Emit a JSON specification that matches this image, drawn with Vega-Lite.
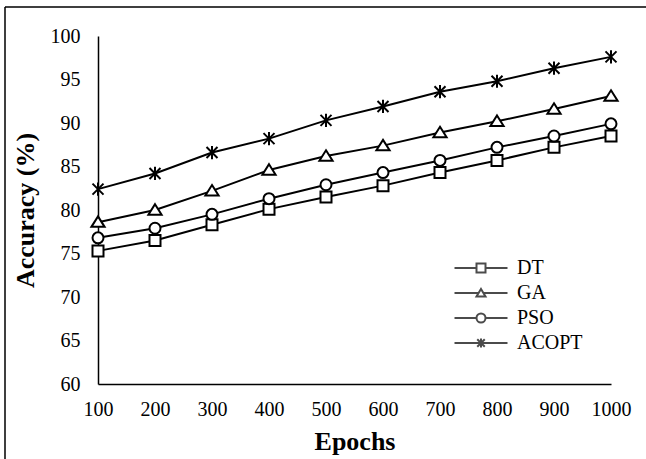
{
  "$schema": "https://vega.github.io/schema/vega-lite/v6.json",
  "width": 641,
  "height": 452,
  "autosize": {"type": "none"},
  "padding": {"left": 5, "top": 7, "right": 0, "bottom": 0},
  "background": "white",
  "view": {"stroke": "black", "strokeWidth": 1.5, "strokeDash": [641, 1093, 452, 0], "fill": "white"},
  "config": {
    "font": "Liberation Serif",
    "axis": {
      "grid": false,
      "ticks": false,
      "tickSize": 0,
      "domainColor": "black",
      "domainWidth": 1.5,
      "labelFont": "Liberation Serif",
      "labelFontSize": 20,
      "labelColor": "black",
      "titleFont": "Liberation Serif",
      "titleFontSize": 26,
      "titleFontWeight": "bold",
      "titleColor": "black"
    },
    "legend": {
      "labelFont": "Liberation Serif",
      "labelFontSize": 20,
      "labelColor": "black",
      "symbolSize": 100,
      "labelOffset": 26,
      "rowPadding": 5,
      "padding": 0
    }
  },
  "data": {
    "values": [
      {"epoch": 100, "method": "DT", "acc": 75.3},
      {"epoch": 200, "method": "DT", "acc": 76.5},
      {"epoch": 300, "method": "DT", "acc": 78.3},
      {"epoch": 400, "method": "DT", "acc": 80.1},
      {"epoch": 500, "method": "DT", "acc": 81.5},
      {"epoch": 600, "method": "DT", "acc": 82.8},
      {"epoch": 700, "method": "DT", "acc": 84.3},
      {"epoch": 800, "method": "DT", "acc": 85.7},
      {"epoch": 900, "method": "DT", "acc": 87.2},
      {"epoch": 1000, "method": "DT", "acc": 88.5},
      {"epoch": 100, "method": "GA", "acc": 78.6},
      {"epoch": 200, "method": "GA", "acc": 80.0},
      {"epoch": 300, "method": "GA", "acc": 82.2},
      {"epoch": 400, "method": "GA", "acc": 84.6},
      {"epoch": 500, "method": "GA", "acc": 86.2},
      {"epoch": 600, "method": "GA", "acc": 87.4},
      {"epoch": 700, "method": "GA", "acc": 88.9},
      {"epoch": 800, "method": "GA", "acc": 90.2},
      {"epoch": 900, "method": "GA", "acc": 91.6},
      {"epoch": 1000, "method": "GA", "acc": 93.1},
      {"epoch": 100, "method": "PSO", "acc": 76.8},
      {"epoch": 200, "method": "PSO", "acc": 77.9},
      {"epoch": 300, "method": "PSO", "acc": 79.5},
      {"epoch": 400, "method": "PSO", "acc": 81.3},
      {"epoch": 500, "method": "PSO", "acc": 82.9},
      {"epoch": 600, "method": "PSO", "acc": 84.3},
      {"epoch": 700, "method": "PSO", "acc": 85.7},
      {"epoch": 800, "method": "PSO", "acc": 87.2},
      {"epoch": 900, "method": "PSO", "acc": 88.5},
      {"epoch": 1000, "method": "PSO", "acc": 89.9},
      {"epoch": 100, "method": "ACOPT", "acc": 82.4},
      {"epoch": 200, "method": "ACOPT", "acc": 84.2},
      {"epoch": 300, "method": "ACOPT", "acc": 86.6},
      {"epoch": 400, "method": "ACOPT", "acc": 88.2},
      {"epoch": 500, "method": "ACOPT", "acc": 90.3},
      {"epoch": 600, "method": "ACOPT", "acc": 91.9},
      {"epoch": 700, "method": "ACOPT", "acc": 93.6},
      {"epoch": 800, "method": "ACOPT", "acc": 94.8},
      {"epoch": 900, "method": "ACOPT", "acc": 96.3},
      {"epoch": 1000, "method": "ACOPT", "acc": 97.6}
    ]
  },
  "encoding": {
    "x": {
      "field": "epoch",
      "type": "quantitative",
      "scale": {"domain": [100, 1000], "range": [93, 606], "nice": false, "zero": false},
      "axis": {"title": "Epochs", "offset": -75, "values": [100, 200, 300, 400, 500, 600, 700, 800, 900, 1000], "format": "d", "labelPadding": 15, "titlePadding": 9, "labelFlush": false, "labelOverlap": false}
    },
    "y": {
      "field": "acc",
      "type": "quantitative",
      "scale": {"domain": [60, 100], "range": [377, 29], "nice": false, "zero": false},
      "axis": {"title": "Accuracy (%)", "offset": -93, "values": [60, 65, 70, 75, 80, 85, 90, 95, 100], "labelPadding": 18, "titlePadding": 12, "labelFlush": false}
    }
  },
  "layer": [
    {
      "mark": {"type": "line", "color": "black", "strokeWidth": 2},
      "encoding": {"detail": {"field": "method", "type": "nominal"}}
    },
    {
      "mark": {"type": "point", "filled": true, "fill": "white", "stroke": "black", "strokeWidth": 2, "size": 121, "opacity": 1},
      "encoding": {
        "shape": {
          "field": "method",
          "type": "nominal",
          "scale": {
            "domain": ["DT", "GA", "PSO", "ACOPT"],
            "range": ["square", "M0,-1.05L1.2,0.85L-1.2,0.85Z", "circle", "M-1,-1L1,1M-1,1L1,-1M0,-1.2V1.2"]
          },
          "legend": null
        }
      }
    },
    {
      "transform": [{"filter": "datum.epoch > 100000"}],
      "mark": {"type": "point", "filled": false, "color": "black", "strokeWidth": 2, "size": 100},
      "encoding": {
        "shape": {
          "field": "method",
          "type": "nominal",
          "scale": {
            "domain": ["DT", "GA", "PSO", "ACOPT"],
            "range": [
              "M-5.3,0H-0.9M0.9,0H5.3M-0.9,-0.9H0.9V0.9H-0.9Z",
              "M-5.3,0H-0.48M0.48,0H5.3M0,-0.8L0.9,0.7H-0.9Z",
              "M-5.3,0H-0.9M0.9,0H5.3M-0.9,0A0.9,0.9,0,1,1,0.9,0A0.9,0.9,0,1,1,-0.9,0Z",
              "M-5.3,0H5.3M-0.75,-0.75L0.75,0.75M-0.75,0.75L0.75,-0.75M0,-0.9V0.9"
            ]
          },
          "legend": {"title": null, "orient": "none", "legendX": 466, "legendY": 251, "symbolStrokeWidth": 2}
        }
      }
    }
  ],
  "resolve": {"scale": {"shape": "independent"}}
}
